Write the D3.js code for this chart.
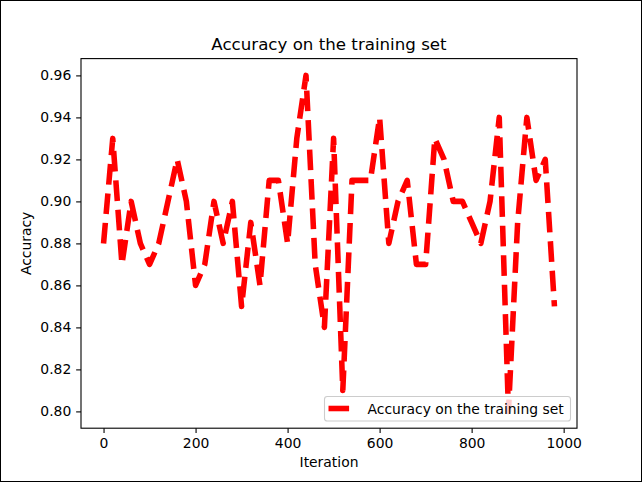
<!DOCTYPE html>
<html lang="en">
<head>
    <meta charset="UTF-8">
    <title>Accuracy on the training set</title>
    <script src="https://d3js.org/d3.v7.min.js"></script>
    <style>
        body { margin: 0; background: #fff; }
        text { font-family: "DejaVu Sans", sans-serif; }
    </style>
</head>
<body>
<script>
    // iterations where accuracy was logged
    const iterations = [0, 20, 40, 60, 80, 100, 120, 140, 160, 180,
        200, 220, 240, 260, 280, 300, 320, 340, 360, 380,
        400, 420, 440, 460, 480, 500, 520, 540, 560, 580,
        600, 620, 640, 660, 680, 700, 720, 740, 760, 780,
        800, 820, 840, 860, 880, 900, 920, 940, 960, 980];
    const accuracy = [0.88, 0.93, 0.87, 0.90, 0.88, 0.87, 0.88, 0.90, 0.92, 0.90,
        0.86, 0.87, 0.90, 0.88, 0.90, 0.85, 0.89, 0.86, 0.91, 0.91,
        0.88, 0.93, 0.96, 0.87, 0.84, 0.93, 0.81, 0.91, 0.91, 0.91,
        0.94, 0.88, 0.90, 0.91, 0.87, 0.87, 0.93, 0.92, 0.90, 0.90,
        0.89, 0.88, 0.90, 0.94, 0.80, 0.89, 0.94, 0.91, 0.92, 0.85];
    const xTicks = [0, 200, 400, 600, 800, 1000];
    const yTicks = [0.80, 0.82, 0.84, 0.86, 0.88, 0.90, 0.92, 0.94, 0.96];
    const seriesName = "Accuracy on the training set";

    const W = 642, H = 482;
    const axL = 81, axR = 577, axT = 58.6, axB = 428.2;

    let svg = d3.select("body").append("svg")
        .attr("width", W)
        .attr("height", H);

    // figure border
    svg.append("rect")
        .attr("x", 0.5).attr("y", 0.5)
        .attr("width", W - 1).attr("height", H - 1)
        .attr("fill", "#fff").attr("stroke", "#000");

    let x = d3.scaleLinear().domain([-49, 1029]).range([axL, axR]);
    let y = d3.scaleLinear().domain([0.792, 0.968]).range([axB, axT]);

    svg.append("clipPath").attr("id", "clip")
        .append("rect")
        .attr("x", axL).attr("y", axT)
        .attr("width", axR - axL).attr("height", axB - axT);

    let pts = iterations.map((it, i) => [it, accuracy[i]]);

    svg.append("path")
        .datum(pts)
        .attr("clip-path", "url(#clip)")
        .attr("fill", "none")
        .attr("stroke", "#ff0000")
        .attr("stroke-width", 5.56)
        .attr("stroke-dasharray", "20.6,8.9")
        .attr("stroke-linejoin", "round")
        .attr("d", d3.line().x(d => x(d[0])).y(d => y(d[1])));

    // axes
    let xAxis = svg.append("g")
        .attr("transform", `translate(0,${axB})`)
        .call(d3.axisBottom(x).tickValues(xTicks).tickSize(4.86).tickPadding(4.86).tickFormat(d3.format("d")));
    let yAxis = svg.append("g")
        .attr("transform", `translate(${axL},0)`)
        .call(d3.axisLeft(y).tickValues(yTicks).tickSize(4.86).tickPadding(4.86).tickFormat(d3.format(".2f")));
    [xAxis, yAxis].forEach(g => {
        g.select(".domain").remove();
        g.selectAll("line").attr("stroke", "#000").attr("stroke-width", 1.1);
        g.selectAll("text").attr("font-size", "13.9px").attr("fill", "#000")
            .style("font-family", "'DejaVu Sans', sans-serif");
    });

    svg.append("rect")
        .attr("x", axL).attr("y", axT)
        .attr("width", axR - axL).attr("height", axB - axT)
        .attr("fill", "none").attr("stroke", "#000").attr("stroke-width", 1.1);

    // title and labels
    svg.append("text")
        .attr("x", (axL + axR) / 2).attr("y", 50.3)
        .attr("text-anchor", "middle")
        .attr("font-size", "16.67px")
        .text(seriesName);

    svg.append("text")
        .attr("x", (axL + axR) / 2).attr("y", 466.5)
        .attr("text-anchor", "middle")
        .attr("font-size", "13.9px")
        .text("Iteration");

    svg.append("text")
        .attr("transform", `translate(31,${(axT + axB) / 2}) rotate(-90)`)
        .attr("text-anchor", "middle")
        .attr("font-size", "13.9px")
        .text("Accuracy");

    // legend, lower right
    let lg = svg.append("g");
    lg.append("rect")
        .attr("x", 324.5).attr("y", 396.5)
        .attr("width", 246).attr("height", 24.5)
        .attr("rx", 2.8)
        .attr("fill", "#fff").attr("fill-opacity", 0.8)
        .attr("stroke", "#cccccc").attr("stroke-width", 1.1);
    lg.append("line")
        .attr("x1", 328.5).attr("x2", 356.3)
        .attr("y1", 408.5).attr("y2", 408.5)
        .attr("stroke", "#ff0000")
        .attr("stroke-width", 5.56)
        .attr("stroke-dasharray", "20.6,8.9");
    lg.append("text")
        .attr("x", 367.5).attr("y", 413.5)
        .attr("font-size", "13.9px")
        .text(seriesName);
</script>
</body>
</html>
